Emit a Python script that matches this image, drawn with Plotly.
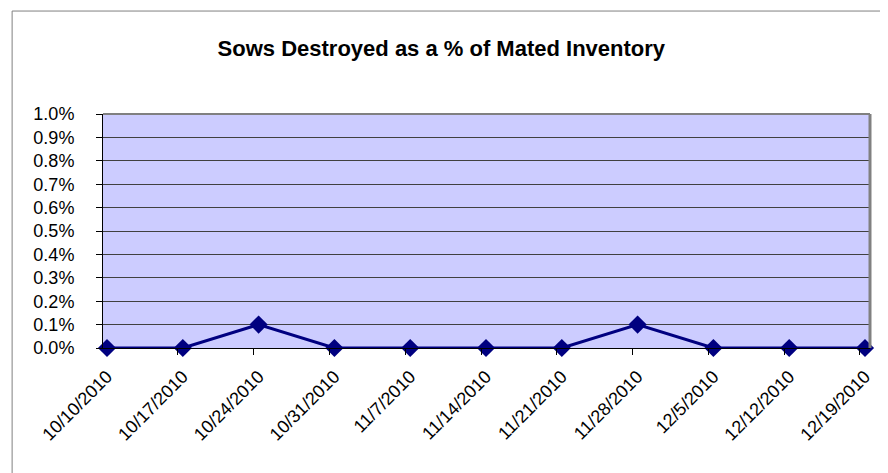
import plotly.graph_objects as go

dates = ["10/10/2010", "10/17/2010", "10/24/2010", "10/31/2010", "11/7/2010",
         "11/14/2010", "11/21/2010", "11/28/2010", "12/5/2010", "12/12/2010",
         "12/19/2010"]
destroyed_pct = [0.0, 0.0, 0.001, 0.0, 0.0, 0.0, 0.0, 0.001, 0.0, 0.0, 0.0]
y_ticks = [i / 1000 for i in range(11)]

FONT = "Liberation Sans, Arial, sans-serif"
xr = [-0.053, len(dates) - 1 + 0.066]

fig = go.Figure()
fig.add_trace(go.Scatter(
    x=dates, y=destroyed_pct, mode="lines+markers",
    line=dict(color="#000080", width=3),
    marker=dict(symbol="diamond", size=14, color="#000080"),
    cliponaxis=False, showlegend=False, hoverinfo="x+y",
))
# invisible trace to carry tick marks offset like Excel's date axis
fig.add_trace(go.Scatter(x=[None], y=[None], xaxis="x2", showlegend=False))

fig.update_layout(
    width=888, height=473,
    margin=dict(l=95, r=26, t=106, b=133),
    paper_bgcolor="white", plot_bgcolor="#CCCCFF",
    title=dict(text="<b>Sows Destroyed as a % of Mated Inventory</b>",
               x=0.488, xanchor="center", y=0.915, yanchor="middle",
               font=dict(family=FONT, size=22, color="black")),
    font=dict(family=FONT, size=18, color="black"),
    xaxis=dict(type="category", range=xr, showgrid=False, ticks="",
               tickangle=-45, showline=True, linecolor="black", linewidth=1,
               tickfont=dict(family=FONT, size=18), zeroline=False,
               ticklabelstandoff=10),
    xaxis2=dict(overlaying="x", type="linear", range=xr, side="bottom",
                tickmode="array",
                tickvals=[i - 0.066 for i in range(len(dates))],
                ticks="outside", ticklen=6, tickcolor="black",
                showticklabels=False, showgrid=False, zeroline=False,
                showline=False),
    yaxis=dict(range=[0, 0.01], tickmode="array", tickvals=y_ticks,
               tickformat=".1%", showgrid=True, gridcolor="#404040",
               gridwidth=1, ticks="outside", ticklen=6, tickcolor="black",
               showline=True, linecolor="black", linewidth=1,
               zeroline=False, tickfont=dict(family=FONT, size=18),
               ticklabelstandoff=18),
    shapes=[
        dict(type="line", xref="paper", yref="paper", x0=0, x1=1, y0=1, y1=1,
             line=dict(color="#808080", width=2)),
        dict(type="line", xref="paper", yref="paper", x0=1, x1=1, y0=0, y1=1,
             line=dict(color="#808080", width=3)),
        dict(type="rect", xref="paper", yref="paper",
             x0=-0.1185, x1=1.0313, y0=-0.6, y1=1.44,
             line=dict(color="#808080", width=1)),
    ],
)

fig.write_html("out.html")
